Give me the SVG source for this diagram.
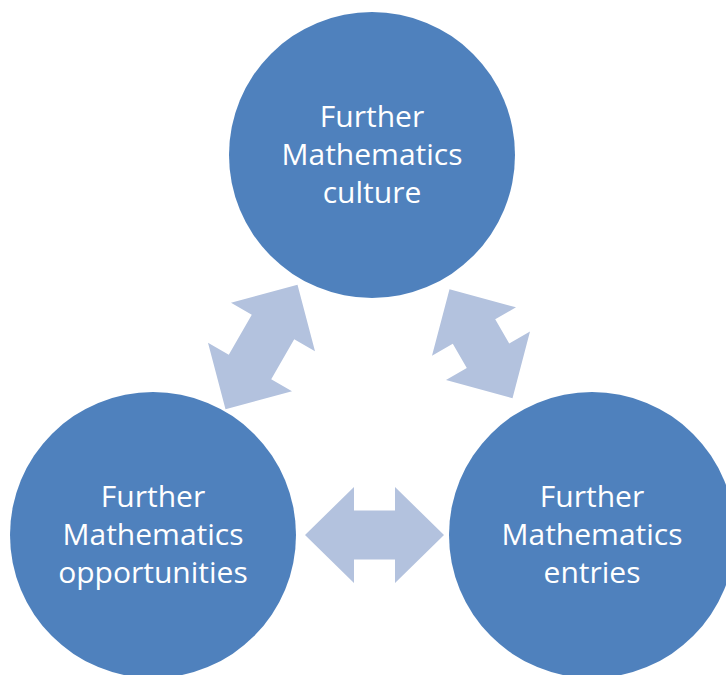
<svg xmlns="http://www.w3.org/2000/svg" width="726" height="675" viewBox="0 0 726 675">
<style>
.node{fill:#4F81BD}
.lbl{fill:#FFFFFF;font-family:"Open Sans","Noto Sans",sans-serif;font-size:30px;text-anchor:middle}
.arr{fill:#B3C2DE}
</style>
<rect width="726" height="675" fill="#FFFFFF"/>
<g id="connectors" class="arr">
<polygon id="arrow-left" transform="translate(261.5,347) rotate(-60)" points="-72,0 -23,-48.5 -23,-24.5 23,-24.5 23,-48.5 72,0 23,48.5 23,24.5 -23,24.5 -23,48.5"/>
<polygon id="arrow-right" transform="translate(481,343.7) rotate(60)" points="-63,0 -14,-48.5 -14,-24.5 14,-24.5 14,-48.5 63,0 14,48.5 14,24.5 -14,24.5 -14,48.5"/>
<polygon id="arrow-bottom" transform="translate(374.5,535)" points="-69.5,0 -20.5,-48 -20.5,-24.5 20.5,-24.5 20.5,-48 69.5,0 20.5,48 20.5,24.5 -20.5,24.5 -20.5,48"/>
</g>
<g id="culture">
<circle class="node" cx="372" cy="155" r="143"/>
<text class="lbl" x="372" y="127">Further</text>
<text class="lbl" x="372" y="165">Mathematics</text>
<text class="lbl" x="372" y="203">culture</text>
</g>
<g id="opportunities">
<circle class="node" cx="153" cy="535" r="143"/>
<text class="lbl" x="153" y="507">Further</text>
<text class="lbl" x="153" y="545">Mathematics</text>
<text class="lbl" x="153" y="583">opportunities</text>
</g>
<g id="entries">
<circle class="node" cx="592" cy="535" r="143"/>
<text class="lbl" x="592" y="507">Further</text>
<text class="lbl" x="592" y="545">Mathematics</text>
<text class="lbl" x="592" y="583">entries</text>
</g>
</svg>
